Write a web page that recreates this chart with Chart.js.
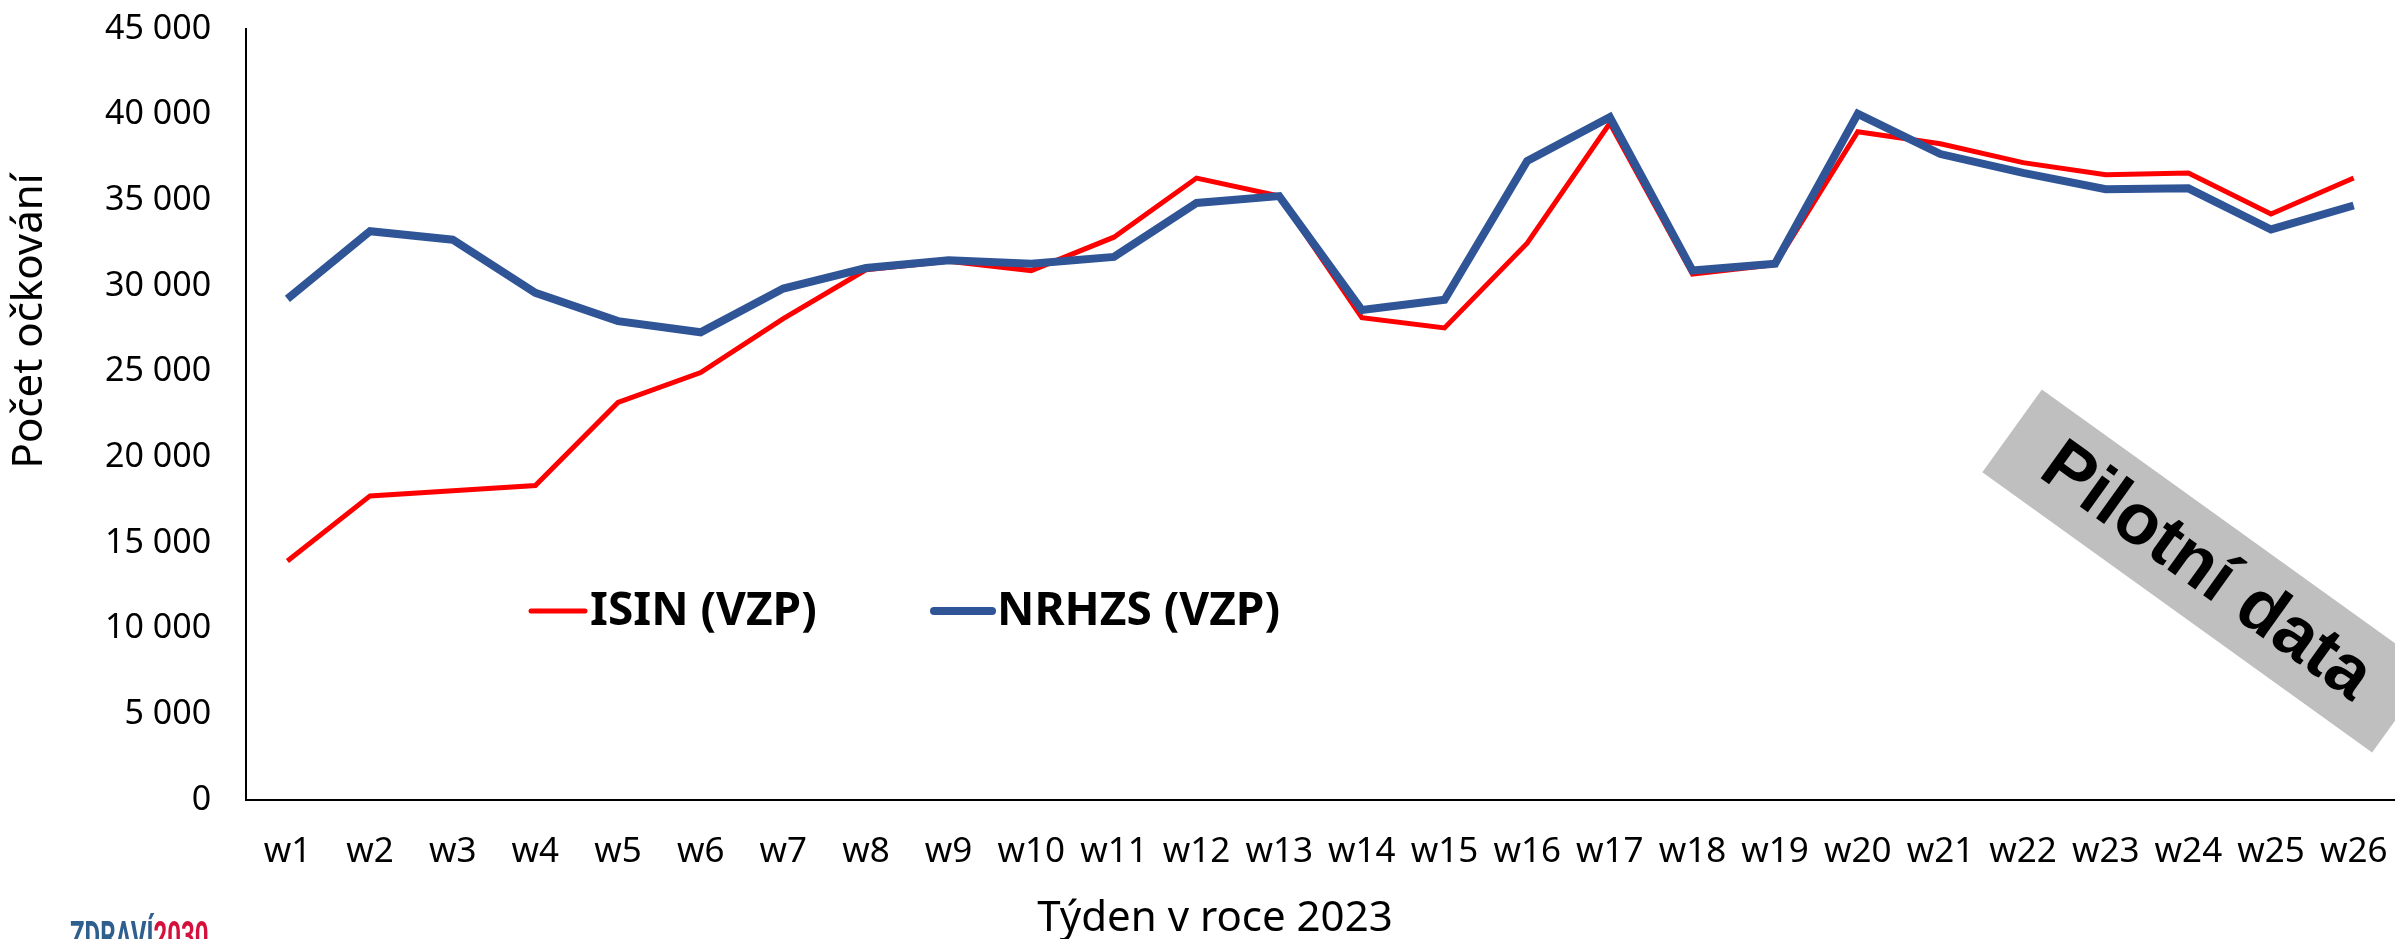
<!DOCTYPE html>
<html>
<head>
<meta charset="utf-8">
<script src="https://cdn.jsdelivr.net/npm/chart.js@4.4.0/dist/chart.umd.min.js"></script>
<style>
  html, body { margin: 0; padding: 0; background: #fff; }
  #wrap { width: 2395px; height: 939px; }
</style>
</head>
<body>
<div id="wrap"><canvas id="chart" width="2395" height="939"></canvas></div>
<script>
const weeks = ['w1', 'w2', 'w3', 'w4', 'w5', 'w6', 'w7', 'w8', 'w9', 'w10', 'w11', 'w12', 'w13',
    'w14', 'w15', 'w16', 'w17', 'w18', 'w19', 'w20', 'w21', 'w22', 'w23', 'w24', 'w25', 'w26'];
const isinVzp = [13950, 17750, 18050, 18350, 23200, 24950, 28100, 30950, 31450, 30900, 32850, 36300, 35250,
    28150, 27550, 32500, 39500, 30700, 31250, 39000, 38300, 37200, 36500, 36600, 34200, 36300];
const nrhzsVzp = [29250, 33200, 32700, 29600, 27950, 27300, 29850, 31050, 31500, 31300, 31700, 34850, 35250,
    28600, 29200, 37300, 39850, 30900, 31300, 40050, 37700, 36600, 35650, 35700, 33300, 34700];
const seriesNames = ['ISIN (VZP)', 'NRHZS (VZP)'];
const yMax = 45000;
const yStep = 5000;

const colours = ['#ff0000', '#2f5597'];
const fontFamily = '"Noto Sans", "Open Sans", sans-serif';

function thousands(v) {
    return v.toString().replace(/\B(?=(\d{3})+(?!\d))/g, ' ');
}

// axis titles, legend inside the plot, "Pilotní data" stamp and logo
const overlay = {
    id: 'overlay',
    afterDraw(chart) {
        const ctx = chart.ctx;
        ctx.save();
        ctx.fillStyle = '#000';
        ctx.textBaseline = 'middle';
        ctx.textAlign = 'center';
        ctx.font = '42px ' + fontFamily;
        ctx.fillText('Týden v roce 2023', 1215, 919);
        ctx.save();
        ctx.translate(30, 321);
        ctx.rotate(-Math.PI / 2);
        ctx.fillText('Počet očkování', 0, 0);
        ctx.restore();

        // legend
        const items = [
            { x: 531, len: 54, w: 5 },
            { x: 934, len: 58, w: 8 }
        ];
        ctx.textAlign = 'left';
        ctx.font = 'bold 46px ' + fontFamily;
        chart.data.datasets.forEach((ds, i) => {
            const it = items[i];
            ctx.strokeStyle = ds.borderColor;
            ctx.lineWidth = it.w;
            ctx.lineCap = 'round';
            ctx.beginPath();
            ctx.moveTo(it.x, 611);
            ctx.lineTo(it.x + it.len, 611);
            ctx.stroke();
            ctx.fillStyle = '#000';
            ctx.fillText(ds.label, it.x + it.len + 5, 612);
        });

        // stamp
        ctx.save();
        ctx.translate(2207, 571);
        ctx.rotate(35.7 * Math.PI / 180);
        ctx.fillStyle = '#bfbfbf';
        ctx.fillRect(-240, -51, 480, 102);
        ctx.fillStyle = '#000';
        ctx.textAlign = 'center';
        ctx.font = 'bold 72px "Liberation Sans", Arial, sans-serif';
        ctx.fillText('Pilotní data', 0, 2);
        ctx.restore();

        // logo, cut by the bottom edge
        ctx.save();
        ctx.translate(70, 950);
        ctx.scale(0.6, 1);
        ctx.textAlign = 'left';
        ctx.textBaseline = 'alphabetic';
        ctx.font = 'bold 40px Roboto, sans-serif';
        ctx.fillStyle = '#2f5f8f';
        ctx.fillText('ZDRAVÍ', 0, 0);
        const w = ctx.measureText('ZDRAVÍ').width;
        ctx.fillStyle = '#d4113c';
        ctx.fillText('2030', w, 0);
        ctx.restore();

        ctx.restore();
    }
};

const ctx = document.getElementById('chart').getContext('2d');
const myChart = new Chart(ctx, {
    type: 'line',
    data: {
        labels: weeks,
        datasets: [{
            label: seriesNames[0],
            data: isinVzp,
            borderColor: colours[0],
            backgroundColor: colours[0],
            borderWidth: 5,
            pointRadius: 0,
            tension: 0,
            order: 1
        }, {
            label: seriesNames[1],
            data: nrhzsVzp,
            borderColor: colours[1],
            backgroundColor: colours[1],
            borderWidth: 8,
            pointRadius: 0,
            tension: 0,
            order: 0
        }]
    },
    options: {
        responsive: false,
        animation: false,
        devicePixelRatio: 1,
        layout: {
            padding: { left: 70, right: 0, top: 29, bottom: 35 }
        },
        plugins: {
            legend: { display: false },
            tooltip: { enabled: false }
        },
        scales: {
            x: {
                offset: true,
                grid: { display: false, drawTicks: false },
                border: { display: true, color: '#000', width: 2 },
                ticks: {
                    color: '#000',
                    padding: 31,
                    maxRotation: 0,
                    autoSkip: false,
                    font: { family: fontFamily, size: 35 }
                },
                afterFit: (scale) => {
                    scale.paddingLeft = 0;
                    scale.paddingRight = 0;
                }
            },
            y: {
                min: 0,
                max: yMax,
                grid: { display: false, drawTicks: false },
                border: { display: true, color: '#000', width: 2 },
                ticks: {
                    stepSize: yStep,
                    color: '#000',
                    padding: 35,
                    font: { family: fontFamily, size: 34 },
                    callback: (v) => thousands(v)
                },
                afterFit: (scale) => {
                    scale.paddingTop = 0;
                    scale.paddingBottom = 0;
                }
            }
        }
    },
    plugins: [overlay]
});
</script>
</body>
</html>
